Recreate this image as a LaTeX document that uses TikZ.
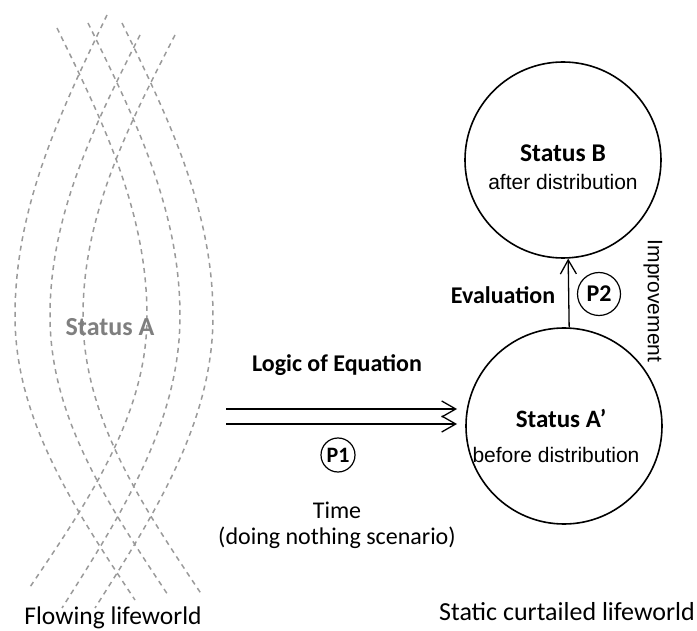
\documentclass[tikz,border=0pt]{standalone}
\usepackage{fontspec}
\setmainfont{Carlito}
\newfontfamily\arialfont{Liberation Sans}
\usetikzlibrary{arrows.meta,calc}
\definecolor{dashgray}{HTML}{9A9A9A}
\definecolor{labelgray}{HTML}{7F7F7F}
\newcommand\fsz[1]{\fontsize{#1}{#1}\selectfont}
\newcommand\lenscurve[6]{%
  \draw[dashcurve] plot[domain=#2:#4,samples=60] ({#3+(#1-#3)*(1-cos(90*((\x-#4)/(#2-#4))))},\x)
    -- plot[domain=#4:#6,samples=60] ({#3+(#5-#3)*(1-cos(90*((\x-#4)/(#6-#4))))},\x);}
\begin{document}
\begin{tikzpicture}[x=1pt,y=-1pt,
  dashcurve/.style={draw=dashgray,line width=1.5pt,dash pattern=on 5pt off 4.5pt},
  bigcircle/.style={draw,circle,line width=1.6pt,minimum size=196pt,inner sep=0pt},
  smallcircle/.style={draw,circle,line width=1.2pt,inner sep=0pt},
  boldlabel/.style={font=\fsz{24}\bfseries,inner sep=0pt},
  plainlabel/.style={font=\fsz{24},inner sep=0pt},
  ariallabel/.style={font=\arialfont\fsz{21},inner sep=0pt},
  chevron/.style={-{Straight Barb[length=14pt,width=16pt,line width=1.3pt]},line width=1.3pt}]
\useasboundingbox (0,0) rectangle (697,631);
% flowing lifeworld curves
\lenscurve{107}{15}{15}{316}{135}{600}
\lenscurve{140}{35}{50}{316}{168}{595}
\lenscurve{175}{35}{83}{316}{202}{595}
\lenscurve{57}{28}{147}{316}{30}{587}
\lenscurve{88}{23}{180}{316}{62}{608}
\lenscurve{122}{23}{213}{316}{95}{608}
\node[boldlabel,font=\fsz{26}\bfseries,text=labelgray] (sA) at (110,327) {Status A};
\node[plainlabel,font=\fsz{25.5}] (flow) at (113,618) {Flowing lifeworld};
% circles
\node[bigcircle] (B) at (563,160) {};
\node[bigcircle] (Ap) at (564,426) {};
\node[boldlabel,font=\fsz{25.5}\bfseries] (Bt) at (563,153) {Status B};
\node[ariallabel] (Bs) at (563,182) {after distribution};
\node[boldlabel,font=\fsz{25}\bfseries] (Apt) at (561,418) {Status A’};
\node[ariallabel] (Aps) at (556,455) {before distribution};
% P2 arrow
\draw[chevron] (Ap.87.5) -- (B.-87.5);
\node[boldlabel] (ev) at (503,295) {Evaluation};
\node[smallcircle,minimum size=43pt,font=\fsz{24}\bfseries] (P2) at (599,294) {P2};
\node[ariallabel,rotate=-90] (imp) at (653,301) {Improvement};
% double arrow
\coordinate (a1s) at (226,409);
\coordinate (a1e) at (457,409);
\coordinate (a2s) at (226,424);
\coordinate (a2e) at (457,424);
\draw[chevron] (a1s) -- (a1e);
\draw[chevron] (a2s) -- (a2e);
\node[boldlabel] (loe) at (337,365) {Logic of Equation};
\node[smallcircle,minimum size=34pt,font=\fsz{22}\bfseries] (P1) at (338,455) {P1};
\node[plainlabel] (time) at (337,510) {Time};
\node[plainlabel] (dns) at (337,538) {(doing nothing scenario)};
\node[plainlabel,font=\fsz{26}] (static) at (567,612) {Static curtailed lifeworld};
\end{tikzpicture}
\end{document}
